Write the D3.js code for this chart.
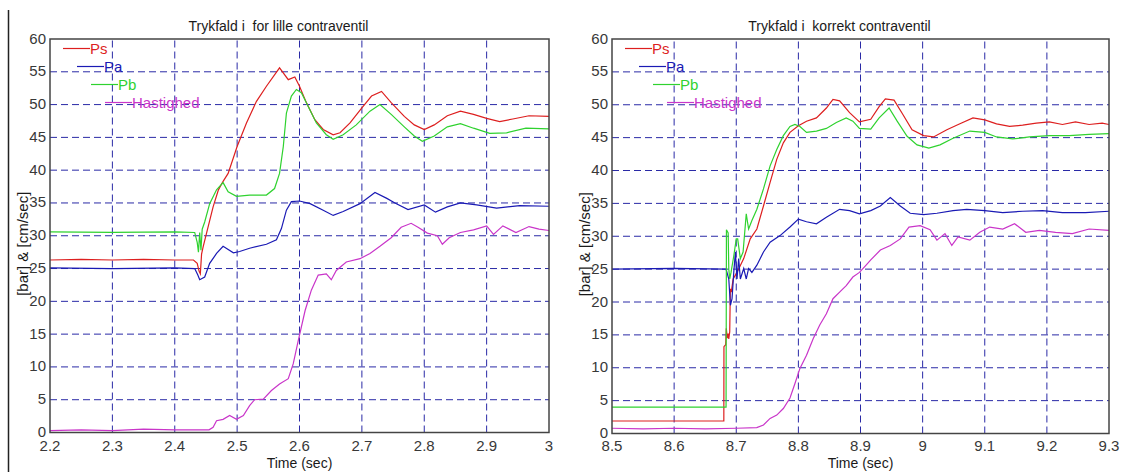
<!DOCTYPE html>
<html lang="en">
<head>
  <meta charset="UTF-8">
  <title>Trykfald i contraventil</title>
  <script src="https://d3js.org/d3.v7.min.js"></script>
  <style>
    body {
      margin: 0;
      background: #ffffff;
      font-family: "Liberation Sans", Arial, sans-serif;
    }

    svg {
      display: block;
    }

    .grid line {
      stroke: #2a2aa6;
      stroke-width: 1px;
      stroke-dasharray: 7, 4;
    }

    .tick-label {
      fill: #383838;
      font-size: 15px;
    }

    .series {
      fill: none;
      stroke-width: 1.2px;
    }
  </style>
</head>

<body>
  <div id="chart"></div>
  <script>
    // ---- data ----
    const xTicksLeft = [2.2, 2.3, 2.4, 2.5, 2.6, 2.7, 2.8, 2.9, 3];
    const xTicksRight = [8.5, 8.6, 8.7, 8.8, 8.9, 9, 9.1, 9.2, 9.3];
    const yTicks = [0, 5, 10, 15, 20, 25, 30, 35, 40, 45, 50, 55, 60];
    const seriesNames = ["Ps", "Pa", "Pb", "Hastighed"];

    const psLeft = [[2.2,26.3],[2.25,26.4],[2.3,26.3],[2.35,26.4],[2.4,26.3],[2.43,26.3],[2.436,25.8],[2.439,24.6],[2.441,24.2],[2.443,27.2],[2.4455,28.3],[2.451,30.4],[2.4615,34.4],[2.47,37],[2.4775,38.3],[2.4856,39.5],[2.5,43.6],[2.515,47.2],[2.531,50.5],[2.547,52.8],[2.568,55.6],[2.582,53.8],[2.5925,54.2],[2.6,52.8],[2.611,50.3],[2.6246,47.7],[2.638,46.2],[2.654,45.4],[2.665,45.7],[2.681,47.2],[2.7,49.5],[2.7155,51.3],[2.7315,52.0],[2.747,50.3],[2.768,48.2],[2.784,46.9],[2.8,46.2],[2.816,46.9],[2.837,48.3],[2.858,49.0],[2.879,48.5],[2.9,47.9],[2.921,47.4],[2.942,47.8],[2.968,48.3],[3.0,48.2]];
    const paLeft = [[2.2,25.1],[2.3,25.0],[2.4,25.1],[2.432,25.0],[2.437,24.0],[2.44,23.3],[2.448,23.7],[2.456,25.8],[2.467,27.3],[2.4775,28.4],[2.494,27.4],[2.504,27.6],[2.52,28.1],[2.547,28.7],[2.563,29.4],[2.571,31.1],[2.579,33.9],[2.587,35.2],[2.6,35.3],[2.617,34.9],[2.638,33.9],[2.654,33.1],[2.67,33.7],[2.697,34.9],[2.721,36.6],[2.74,35.7],[2.753,35.0],[2.774,34.0],[2.8,34.7],[2.818,33.6],[2.837,34.4],[2.858,35.0],[2.884,34.7],[2.916,34.2],[2.953,34.6],[3.0,34.5]];
    const pbLeft = [[2.2,30.6],[2.3,30.5],[2.4,30.6],[2.432,30.5],[2.436,29.0],[2.438,27.5],[2.44,30.5],[2.442,27.8],[2.444,31.0],[2.448,32.1],[2.456,34.9],[2.467,37.0],[2.4775,38.1],[2.4856,36.7],[2.499,36.0],[2.52,36.2],[2.547,36.2],[2.56,37.2],[2.568,39.5],[2.574,43.6],[2.579,48.7],[2.587,51.3],[2.595,52.3],[2.603,51.8],[2.614,49.7],[2.627,47.2],[2.643,45.4],[2.654,44.7],[2.67,45.4],[2.691,46.9],[2.713,49.0],[2.729,50.0],[2.747,48.5],[2.768,46.6],[2.784,45.2],[2.797,44.4],[2.816,45.2],[2.837,46.6],[2.858,47.1],[2.879,46.4],[2.905,45.6],[2.932,45.7],[2.963,46.4],[3.0,46.3]];
    const hastLeft = [[2.2,0.3],[2.25,0.4],[2.3,0.3],[2.35,0.5],[2.4,0.4],[2.455,0.4],[2.4615,0.8],[2.467,1.8],[2.4775,2.0],[2.488,2.6],[2.499,2.0],[2.51,2.6],[2.52,4.1],[2.528,5.0],[2.542,5.1],[2.555,6.4],[2.568,7.4],[2.582,8.2],[2.59,10.5],[2.598,14.0],[2.609,18.6],[2.619,21.7],[2.63,24.0],[2.643,24.2],[2.651,23.3],[2.659,24.7],[2.675,26.0],[2.697,26.5],[2.713,27.3],[2.729,28.4],[2.747,29.7],[2.763,31.3],[2.779,31.9],[2.79,31.3],[2.805,30.4],[2.821,30.0],[2.829,28.7],[2.84,29.7],[2.858,30.5],[2.879,30.9],[2.9,31.5],[2.911,30.2],[2.926,31.5],[2.947,30.5],[2.968,31.4],[2.984,31.0],[3.0,30.8]];

    const psRight = [[8.5,1.9],[8.6,1.9],[8.68,1.9],[8.6802,13.2],[8.683,13.5],[8.684,16.0],[8.6855,14.5],[8.687,15.2],[8.688,14.4],[8.6895,15.5],[8.6905,22.0],[8.692,21.5],[8.695,23.5],[8.7012,24.5],[8.712,26.6],[8.7225,29.6],[8.7332,31.1],[8.7438,34.6],[8.7545,38.2],[8.7652,41.7],[8.7758,44.2],[8.7865,45.8],[8.8,46.8],[8.8131,47.5],[8.8291,48.0],[8.8451,49.5],[8.8557,50.8],[8.8664,50.6],[8.8824,48.8],[8.8983,47.4],[8.9165,47.8],[8.93,49.7],[8.94,50.9],[8.954,50.7],[8.967,48.7],[8.983,46.2],[9.0016,45.3],[9.0176,45.1],[9.039,46.2],[9.06,47.1],[9.081,48.0],[9.1,47.7],[9.119,47.1],[9.14,46.7],[9.161,46.9],[9.183,47.2],[9.204,47.4],[9.225,47.0],[9.246,47.4],[9.268,47.0],[9.289,47.2],[9.3,47.0]];
    const paRight = [[8.5,25.0],[8.6,25.1],[8.6836,25.0],[8.688,23.5],[8.6906,19.5],[8.6932,20.5],[8.696,24.5],[8.6986,27.6],[8.7012,23.5],[8.7039,26.6],[8.7066,23.5],[8.712,25.1],[8.7161,23.5],[8.7199,25.1],[8.7252,24.5],[8.7332,25.6],[8.7438,27.6],[8.7545,29.1],[8.7705,30.1],[8.7865,31.4],[8.8,32.6],[8.8131,32.2],[8.8291,31.9],[8.8451,32.9],[8.8664,34.1],[8.8824,33.9],[8.8983,33.4],[8.9165,33.9],[8.932,34.6],[8.948,35.9],[8.964,34.6],[8.98,33.5],[9.0016,33.3],[9.023,33.5],[9.049,33.9],[9.071,34.1],[9.1,33.9],[9.129,33.6],[9.161,33.8],[9.193,33.9],[9.225,33.6],[9.262,33.6],[9.3,33.8]];
    const pbRight = [[8.5,4.0],[8.6,4.0],[8.6836,4.0],[8.6842,31.0],[8.687,30.5],[8.688,25.0],[8.6895,23.5],[8.6916,24.5],[8.696,27.0],[8.7,29.6],[8.7023,29.6],[8.7066,26.6],[8.711,27.6],[8.7161,33.4],[8.7199,31.1],[8.7252,32.4],[8.7332,34.1],[8.7438,37.2],[8.7545,40.7],[8.7652,43.2],[8.7758,45.3],[8.7865,46.7],[8.7945,47.0],[8.8025,46.7],[8.8131,45.8],[8.8291,46.0],[8.8451,46.4],[8.8611,47.3],[8.877,48.0],[8.8877,47.5],[8.8983,46.4],[8.9165,46.3],[8.93,48.0],[8.946,49.5],[8.959,47.5],[8.975,45.2],[8.991,43.9],[9.01,43.4],[9.028,43.9],[9.049,44.9],[9.076,46.0],[9.1,45.8],[9.119,45.1],[9.145,44.8],[9.172,45.1],[9.204,45.3],[9.236,45.3],[9.268,45.5],[9.3,45.6]];
    const hastRight = [[8.5,0.8],[8.55,0.7],[8.6,0.8],[8.65,0.7],[8.7,0.8],[8.733,0.9],[8.7438,1.3],[8.7545,2.3],[8.7652,2.8],[8.7758,3.8],[8.7865,5.4],[8.7945,7.6],[8.8025,9.9],[8.8131,11.9],[8.8238,14.4],[8.8344,16.5],[8.8451,18.2],[8.8557,20.5],[8.8664,21.5],[8.877,22.5],[8.8877,23.8],[8.8983,24.5],[8.909,25.6],[8.9165,26.4],[8.932,27.9],[8.948,28.6],[8.964,29.6],[8.978,31.4],[8.996,31.6],[9.012,31.0],[9.023,29.4],[9.036,30.4],[9.047,28.6],[9.057,29.9],[9.076,29.4],[9.092,30.6],[9.108,31.4],[9.129,31.1],[9.148,31.9],[9.166,30.6],[9.188,30.9],[9.214,30.6],[9.241,30.4],[9.268,31.1],[9.3,30.9]];

    const colors = ["#dd1f1f", "#1a1ab4", "#2fd22f", "#c935c9"];

    const width = 1123,
          height = 472;

    const svg = d3.select("#chart")
      .append("svg")
      .attr("width", width)
      .attr("height", height);

    // figure frame edge on the left
    svg.append("line")
      .attr("x1", 8.5).attr("x2", 8.5)
      .attr("y1", 10).attr("y2", height)
      .attr("stroke", "#222")
      .attr("stroke-width", 1.5);

    const panels = [
      {
        title: "Trykfald i  for lille contraventil",
        left: 50, right: 549, top: 39, bottom: 432.5,
        xTicks: xTicksLeft,
        series: [psLeft, paLeft, pbLeft, hastLeft]
      },
      {
        title: "Trykfald i  korrekt contraventil",
        left: 612, right: 1109, top: 39, bottom: 433.5,
        xTicks: xTicksRight,
        series: [psRight, paRight, pbRight, hastRight]
      }
    ];

    panels.forEach(drawPanel);

    function drawPanel(p) {
      const x = d3.scaleLinear()
        .domain([p.xTicks[0], p.xTicks[p.xTicks.length - 1]])
        .range([p.left, p.right]);

      const y = d3.scaleLinear()
        .domain([0, 60])
        .range([p.bottom, p.top]);

      const g = svg.append("g");

      // grid
      const grid = g.append("g").attr("class", "grid");
      grid.selectAll("line.h")
        .data(yTicks.slice(1, -1))
        .enter().append("line")
        .attr("class", "h")
        .attr("x1", p.left).attr("x2", p.right)
        .attr("y1", d => y(d)).attr("y2", d => y(d));

      grid.selectAll("line.v")
        .data(p.xTicks.slice(1, -1))
        .enter().append("line")
        .attr("class", "v")
        .attr("x1", d => x(d)).attr("x2", d => x(d))
        .attr("y1", p.bottom).attr("y2", p.top);

      // legend
      const legend = g.append("g");
      seriesNames.forEach((name, i) => {
        const lx = p.left + 13 + i * 14;
        const ly = 48.5 + i * 18;
        legend.append("line")
          .attr("x1", lx).attr("x2", lx + 27)
          .attr("y1", ly).attr("y2", ly)
          .attr("stroke", colors[i])
          .attr("stroke-width", 1.2);
        legend.append("text")
          .attr("x", lx + 27)
          .attr("y", ly + 5)
          .attr("fill", colors[i])
          .style("font-size", "15px")
          .text(name);
      });

      // curves
      const line = d3.line()
        .x(d => x(d[0]))
        .y(d => y(d[1]));

      g.selectAll("path.series")
        .data(p.series)
        .enter().append("path")
        .attr("class", "series")
        .attr("stroke", (d, i) => colors[i])
        .attr("d", line);

      // axes box
      g.append("rect")
        .attr("x", p.left).attr("y", p.top)
        .attr("width", p.right - p.left)
        .attr("height", p.bottom - p.top)
        .attr("fill", "none")
        .attr("stroke", "#444")
        .attr("stroke-width", 1.5);

      // tick labels
      g.selectAll("text.yl")
        .data(yTicks)
        .enter().append("text")
        .attr("class", "tick-label yl")
        .attr("x", p.left - 4)
        .attr("y", d => y(d) + 4.5)
        .attr("text-anchor", "end")
        .text(d => d);

      g.selectAll("text.xl")
        .data(p.xTicks)
        .enter().append("text")
        .attr("class", "tick-label xl")
        .attr("x", d => x(d))
        .attr("y", 451)
        .attr("text-anchor", "middle")
        .text(d => d);

      // titles (keep the double space of the original)
      const cx = (p.left + p.right) / 2;
      g.append("text")
        .attr("x", cx - 21)
        .attr("y", 31)
        .attr("text-anchor", "middle")
        .attr("fill", "#1a1a1a")
        .attr("xml:space", "preserve")
        .style("white-space", "pre")
        .style("font-size", "14px")
        .text(p.title);

      g.append("text")
        .attr("x", cx)
        .attr("y", 468)
        .attr("text-anchor", "middle")
        .attr("fill", "#1a1a1a")
        .style("font-size", "14px")
        .text("Time (sec)");

      g.append("text")
        .attr("transform", `translate(${p.left - 22},${(p.top + p.bottom) / 2 + 8}) rotate(-90)`)
        .attr("text-anchor", "middle")
        .attr("fill", "#1a1a1a")
        .style("font-size", "15px")
        .text("[bar] & [cm/sec]");
    }
  </script>
</body>
</html>
